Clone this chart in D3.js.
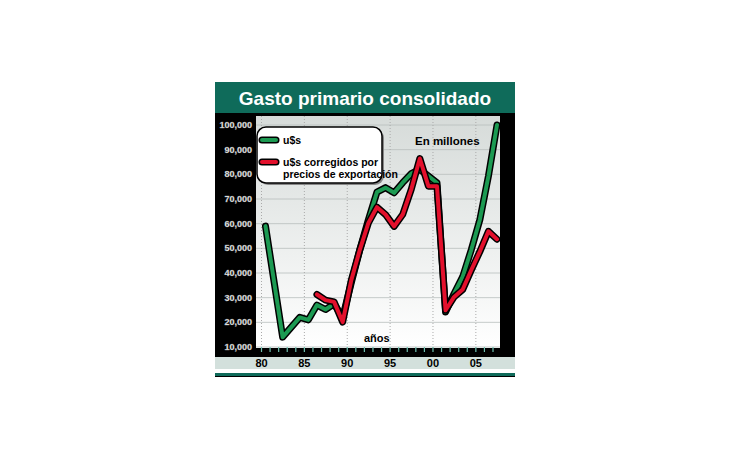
<!DOCTYPE html>
<html>
<head>
<meta charset="utf-8">
<script src="https://cdn.jsdelivr.net/npm/d3@7"></script>
<style>
  body { margin: 0; background: #fff; }
  text { font-family: "Liberation Sans Narrow", "Arial Narrow", sans-serif; font-weight: bold; }
</style>
</head>
<body>
<div class="container"></div>
<script>
// Data (millones)
const yearsUsd = [1980, 1982, 1984, 1985, 1986, 1987, 1988, 1989, 1990, 1991, 1992, 1993, 1994, 1995, 1996, 1997, 1998, 1999, 2000, 2001, 2002, 2003, 2004, 2005, 2006, 2007]
const usd = [59, 14, 22, 21, 27, 25.2, 27.5, 22, 36, 49.4, 61.6, 72.8, 74.6, 72.5, 76.6, 80.3, 82, 79.3, 76.6, 24.2, 31.7, 38.5, 49.4, 61.6, 79.3, 100]
const yearsExp = [1986, 1987, 1988, 1989, 1990, 1991, 1992, 1993, 1994, 1995, 1996, 1997, 1998, 1999, 2000, 2001, 2002, 2003, 2004, 2005, 2006, 2007]
const usdExp = [31.3, 29, 28.3, 20.1, 37, 49.4, 60.3, 66.7, 63.7, 58.9, 63.7, 73.9, 86.4, 75.2, 75.2, 24.9, 30.3, 33.3, 41.2, 48.7, 56.9, 53.7]
const yTicks = [10, 20, 30, 40, 50, 60, 70, 80, 90, 100]
const xLabels = [1980, 1985, 1990, 1995, 2000, 2005]

const svg = d3.select(".container").append("svg")
    .attr("width", 730).attr("height", 460)

const plotLeft = 256, plotRight = 500, plotTop = 116, plotBottom = 348

// Frame
svg.append("rect").attr("x", 215).attr("y", 82).attr("width", 300).attr("height", 295).attr("fill", "#000")
svg.append("rect").attr("x", 215).attr("y", 82).attr("width", 300).attr("height", 31).attr("fill", "#0f6b5a")
svg.append("text").text("Gasto primario consolidado")
    .attr("x", 365).attr("y", 105).attr("text-anchor", "middle")
    .attr("font-size", 19).attr("fill", "#fff")

// Plot background gradient
const grad = svg.append("defs").append("linearGradient").attr("id", "bg")
    .attr("x1", 0).attr("y1", 0).attr("x2", 0).attr("y2", 1)
grad.append("stop").attr("offset", "0%").attr("stop-color", "#d6dbd9")
grad.append("stop").attr("offset", "100%").attr("stop-color", "#ffffff")
svg.append("rect").attr("x", plotLeft).attr("y", plotTop)
    .attr("width", plotRight - plotLeft).attr("height", plotBottom - plotTop)
    .attr("fill", "url(#bg)")

// Bottom bands
svg.append("rect").attr("x", 215).attr("y", 357).attr("width", 300).attr("height", 12).attr("fill", "#d3e0dc")
svg.append("rect").attr("x", 215).attr("y", 369).attr("width", 300).attr("height", 4).attr("fill", "#fff")
svg.append("rect").attr("x", 215).attr("y", 373).attr("width", 300).attr("height", 3).attr("fill", "#0f6b5a")

// Scales
const x = d3.scaleLinear().domain([1980, 2007]).range([265.5, 497])
const y = d3.scaleLinear().domain([10, 100]).range([347, 125])

// Grid
svg.append("g").selectAll("line").data(yTicks).join("line")
    .attr("x1", plotLeft).attr("x2", plotRight)
    .attr("y1", d => y(d)).attr("y2", d => y(d))
    .attr("stroke", "#b8bebc").attr("stroke-width", 0.8)
svg.append("g").selectAll("line").data(xLabels).join("line")
    .attr("x1", d => x(d) - 4).attr("x2", d => x(d) - 4)
    .attr("y1", plotTop).attr("y2", plotBottom)
    .attr("stroke", "#aaa").attr("stroke-dasharray", "1,2")

// Y axis labels
svg.append("g").selectAll("text").data(yTicks).join("text")
    .text(d => d3.format(",")(d * 1000))
    .attr("x", 252).attr("y", d => y(d) + 3).attr("text-anchor", "end")
    .attr("font-size", 9).attr("font-weight", "normal")
    .attr("fill", "#fff").attr("stroke", "#888").attr("stroke-width", 0.3)

// X ticks
svg.append("g").selectAll("line").data(d3.range(1980, 2008)).join("line")
    .attr("x1", d => x(d) - 4).attr("x2", d => x(d) - 4)
    .attr("y1", 347).attr("y2", 352)
    .attr("stroke", "#6fc0b0").attr("stroke-width", 1.2)
svg.append("g").selectAll("text").data(xLabels).join("text")
    .text(d => String(d).slice(2))
    .attr("x", d => x(d) - 4).attr("y", 367).attr("text-anchor", "middle")
    .attr("font-size", 11).attr("fill", "#000")

// Lines
const line = d3.line().x(d => x(d[0])).y(d => y(d[1]))
function drawSeries(years, vals, color) {
    const pts = years.map((yr, i) => [yr, vals[i]])
    svg.append("path").datum(pts).attr("d", line).attr("fill", "none")
        .attr("stroke", "#000").attr("stroke-width", 7).attr("stroke-linejoin", "round").attr("stroke-linecap", "round")
    svg.append("path").datum(pts).attr("d", line).attr("fill", "none")
        .attr("stroke", color).attr("stroke-width", 4).attr("stroke-linejoin", "round").attr("stroke-linecap", "round")
}
drawSeries(yearsUsd, usd, "#1c9a52")
drawSeries(yearsExp, usdExp, "#e3102c")

// Legend
svg.append("rect").attr("x", 259).attr("y", 129).attr("width", 125).attr("height", 56).attr("rx", 9)
    .attr("fill", "#888")
svg.append("rect").attr("x", 257).attr("y", 127).attr("width", 125).attr("height", 56).attr("rx", 9)
    .attr("fill", "#fff").attr("stroke", "#000").attr("stroke-width", 1.5)
const legend = [
    {color: "#1c9a52", y: 140, lines: ["u$s"]},
    {color: "#e3102c", y: 162, lines: ["u$s corregidos por", "precios de exportación"]}
]
legend.forEach(l => {
    svg.append("line").attr("x1", 262).attr("x2", 276).attr("y1", l.y).attr("y2", l.y)
        .attr("stroke", "#000").attr("stroke-width", 7).attr("stroke-linecap", "round")
    svg.append("line").attr("x1", 262).attr("x2", 276).attr("y1", l.y).attr("y2", l.y)
        .attr("stroke", l.color).attr("stroke-width", 4).attr("stroke-linecap", "round")
    l.lines.forEach((t, i) => {
        svg.append("text").text(t).attr("x", 283).attr("y", l.y + 4 + i * 12)
            .attr("font-size", 10.5).attr("fill", "#000")
    })
})

svg.append("text").text("En millones").attr("x", 415).attr("y", 145)
    .attr("font-size", 11.5).attr("fill", "#000")
svg.append("text").text("años").attr("x", 364).attr("y", 342)
    .attr("font-size", 11).attr("fill", "#000")
</script>
</body>
</html>
